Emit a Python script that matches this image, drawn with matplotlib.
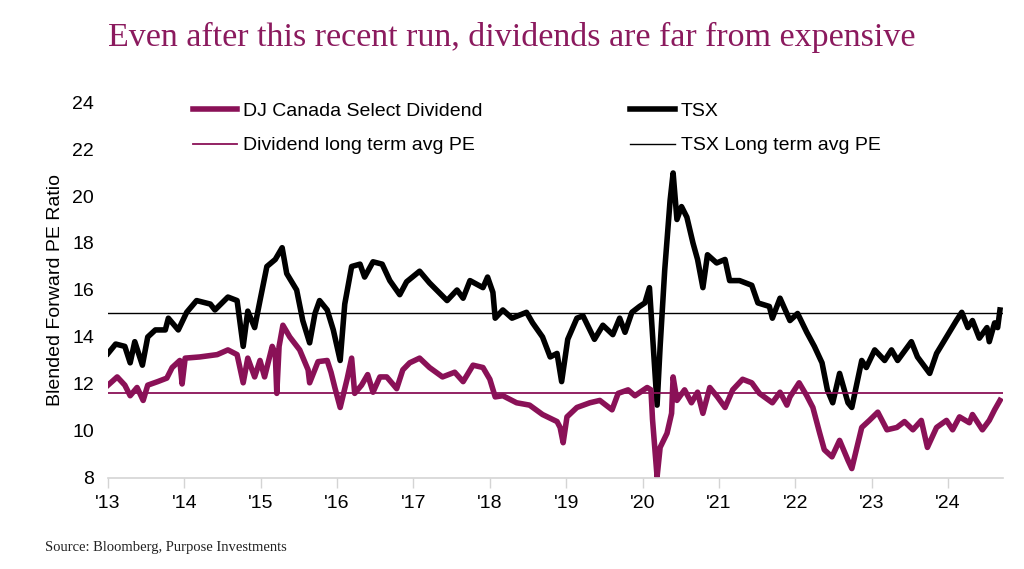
import matplotlib
matplotlib.use("Agg")
import matplotlib.pyplot as plt
import numpy as np

plt.rcParams["font.family"] = ["Liberation Sans", "DejaVu Sans"]

# decimal years since start of 2013
TSX_T = [0.00, 0.10, 0.22, 0.29, 0.35, 0.45, 0.52, 0.62, 0.75, 0.79, 0.92, 1.03, 1.16, 1.34, 1.40,
         1.57, 1.69, 1.77, 1.83, 1.92, 1.99, 2.08, 2.19, 2.28, 2.34, 2.47, 2.55, 2.64, 2.71, 2.77,
         2.87, 2.95, 3.04, 3.10, 3.19, 3.30, 3.36, 3.47, 3.59, 3.69, 3.82, 3.91, 4.08, 4.21, 4.44,
         4.57, 4.65, 4.74, 4.91, 4.97, 5.04, 5.07, 5.17, 5.29, 5.48, 5.56, 5.69, 5.79, 5.88, 5.94,
         6.02, 6.14, 6.22, 6.37, 6.48, 6.61, 6.70, 6.77, 6.86, 6.96, 7.03, 7.09, 7.19, 7.23, 7.29,
         7.36, 7.40, 7.45, 7.51, 7.58, 7.66, 7.72, 7.79, 7.85, 7.97, 8.08, 8.14, 8.27, 8.43, 8.51,
         8.66, 8.70, 8.80, 8.93, 9.03, 9.15, 9.25, 9.35, 9.42, 9.49, 9.58, 9.69, 9.74, 9.87, 9.93,
         10.04, 10.17, 10.26, 10.34, 10.52, 10.60, 10.76, 10.85, 10.98, 11.11, 11.18, 11.26, 11.32,
         11.41, 11.51, 11.54, 11.61, 11.65, 11.68]
TSX_PE = [13.3, 13.7, 13.6, 12.9, 13.8, 12.8, 14.0, 14.3, 14.3, 14.8, 14.3, 15.05, 15.55, 15.4, 15.15,
          15.7, 15.55, 13.6, 15.1, 14.4, 15.55, 17.0, 17.3, 17.8, 16.7, 16.0, 14.7, 13.75, 15.0, 15.55,
          15.15, 14.3, 13.0, 15.4, 17.0, 17.1, 16.55, 17.2, 17.1, 16.4, 15.8, 16.35, 16.8, 16.3, 15.55,
          16.0, 15.65, 16.4, 16.1, 16.55, 15.9, 14.8, 15.15, 14.8, 15.05, 14.6, 14.0, 13.15, 13.3, 12.1,
          13.9, 14.8, 14.9, 13.9, 14.5, 14.1, 14.8, 14.2, 15.05, 15.3, 15.45, 16.1, 11.1, 13.6, 16.85,
          19.8, 20.98, 19.0, 19.55, 19.1, 18.0, 17.3, 16.1, 17.5, 17.15, 17.3, 16.4, 16.4, 16.2, 15.45,
          15.3, 14.8, 15.65, 14.7, 15.0, 14.2, 13.6, 12.9, 11.75, 11.2, 12.45, 11.2, 11.0, 13.0, 12.7,
          13.45, 13.0, 13.45, 13.0, 13.8, 13.15, 12.45, 13.3, 14.0, 14.7, 15.05, 14.4, 14.7,
          13.95, 14.4, 13.8, 14.6, 14.4, 15.15]

DIV_T = [0.00, 0.12, 0.22, 0.29, 0.38, 0.46, 0.52, 0.65, 0.77, 0.84, 0.94, 0.97, 1.01, 1.20, 1.43,
         1.57, 1.69, 1.77, 1.83, 1.92, 1.99, 2.05, 2.15, 2.19, 2.21, 2.24, 2.29, 2.38, 2.51, 2.62,
         2.64, 2.75, 2.87, 2.92, 2.97, 3.04, 3.13, 3.19, 3.23, 3.32, 3.40, 3.47, 3.56, 3.65, 3.78,
         3.86, 3.95, 4.08, 4.21, 4.38, 4.54, 4.65, 4.78, 4.91, 5.00, 5.07, 5.17, 5.35, 5.52, 5.69,
         5.88, 5.92, 5.96, 6.01, 6.14, 6.31, 6.44, 6.60, 6.68, 6.81, 6.90, 7.06, 7.11, 7.13, 7.19,
         7.23, 7.32, 7.38, 7.40, 7.45, 7.55, 7.64, 7.72, 7.79, 7.88, 7.98, 8.08, 8.18, 8.31, 8.43,
         8.53, 8.70, 8.80, 8.89, 8.93, 9.05, 9.15, 9.23, 9.32, 9.38, 9.48, 9.58, 9.69, 9.74, 9.87,
         9.97, 10.08, 10.20, 10.33, 10.43, 10.54, 10.65, 10.73, 10.85, 10.98, 11.06, 11.15, 11.28,
         11.32, 11.45, 11.54, 11.61, 11.68]
DIV_PE = [11.95, 12.3, 11.95, 11.5, 11.85, 11.3, 11.95, 12.1, 12.25, 12.7, 13.0, 12.0, 13.1, 13.15, 13.25,
          13.45, 13.25, 12.05, 13.1, 12.3, 13.0, 12.3, 13.6, 13.3, 11.6, 13.6, 14.5, 14.0, 13.45, 12.6,
          12.05, 12.95, 13.0, 12.5, 11.85, 11.0, 12.2, 13.1, 11.6, 11.95, 12.4, 11.65, 12.3, 12.3, 11.8,
          12.6, 12.9, 13.1, 12.7, 12.3, 12.5, 12.1, 12.8, 12.7, 12.2, 11.45, 11.5, 11.2, 11.1, 10.7,
          10.4, 10.15, 9.5, 10.6, 11.0, 11.2, 11.3, 10.9, 11.6, 11.75, 11.5, 11.85, 11.75, 10.5, 8.05,
          9.3, 9.9, 10.75, 12.3, 11.3, 11.75, 11.2, 11.65, 10.75, 11.85, 11.45, 11.0, 11.75, 12.2, 12.05,
          11.6, 11.2, 11.65, 11.1, 11.45, 12.05, 11.5, 11.0, 9.9, 9.2, 8.9, 9.6, 8.75, 8.4, 10.15,
          10.45, 10.8, 10.05, 10.15, 10.4, 10.05, 10.45, 9.3, 10.15, 10.45, 10.05, 10.6, 10.35,
          10.7, 10.05, 10.45, 10.9, 11.3]

TSX_AVG = 15.0
DIV_AVG = 11.6
YEARS = list(range(2013, 2025))
YEAR_LABELS = ["'" + str(y)[2:] for y in YEARS]

PURPLE = "#8a1157"

fig = plt.figure(figsize=(10.24, 5.69), dpi=100)
ax = fig.add_axes([0.1055, 0.160, 0.874, 0.6607])

t0 = 2013
ax.plot(t0 + np.array(TSX_T), TSX_PE, color="black", lw=4.0, solid_joinstyle="round", label="TSX")
ax.plot(t0 + np.array(DIV_T), DIV_PE, color=PURPLE, lw=4.0, solid_joinstyle="round",
        label="DJ Canada Select Dividend")
ax.axhline(DIV_AVG, color=PURPLE, lw=1.3, label="Dividend long term avg PE")
ax.axhline(TSX_AVG, color="black", lw=1.0, label="TSX Long term avg PE")

ax.set_xlim(2013, 2024.72)
ax.set_ylim(8, 24)
ax.set_yticks(np.arange(8, 25, 2))
ax.set_xticks(YEARS)
ax.set_xticklabels(YEAR_LABELS)

for s in ["top", "right", "left"]:
    ax.spines[s].set_visible(False)
ax.spines["bottom"].set_color("#d4d4d4")
ax.spines["bottom"].set_linewidth(1.2)
ax.tick_params(axis="y", length=0, labelsize=14, pad=10)
ax.tick_params(axis="x", length=7, color="#d4d4d4", width=1.0, labelsize=14, pad=5)
ax.set_ylabel("Blended Forward PE Ratio", fontsize=14, labelpad=6)

h, l = ax.get_legend_handles_labels()
order = [1, 2, 0, 3]
ax.legend([h[i] for i in order], [l[i] for i in order], ncol=2, loc="upper left",
          bbox_to_anchor=(0.075, 1.045), frameon=False, handlelength=2.3, handletextpad=0.3,
          columnspacing=7.6, labelspacing=0.85, fontsize=14)

fig.text(0.5, 0.935, "Even after this recent run, dividends are far from expensive", ha="center",
         va="center", color="#8b1a5e", fontsize=24.5, family="Liberation Serif")
fig.text(0.044, 0.037, "Source: Bloomberg, Purpose Investments", ha="left", va="center",
         fontsize=10.5, family="Liberation Serif", color="#222222")

fig.savefig("out.png", dpi=100)
